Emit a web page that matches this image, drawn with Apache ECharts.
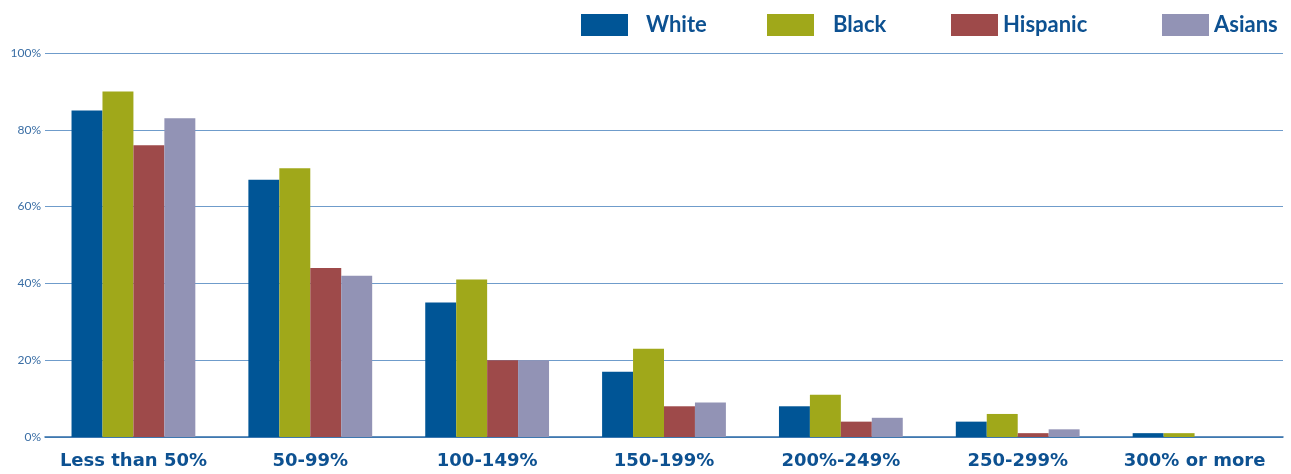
<!DOCTYPE html>
<html>
<head>
<meta charset="utf-8">
<script src="https://cdn.jsdelivr.net/npm/echarts@6/dist/echarts.min.js"></script>
<style>
  html, body { margin: 0; padding: 0; background: #ffffff; }
  #chart { width: 1291px; height: 474px; }
</style>
</head>
<body>
<div id="chart"></div>
<script>
// Income-to-poverty bands and the share (%) for each group
const categories = ['Less than 50%', '50-99%', '100-149%', '150-199%', '200%-249%', '250-299%', '300% or more'];
const white    = [85, 67, 35, 17, 8, 4, 1];
const black    = [90, 70, 41, 23, 11, 6, 1];
const hispanic = [76, 44, 20, 8, 4, 1, 0];
const asians   = [83, 42, 20, 9, 5, 2, 0];
const yTicks   = [0, 20, 40, 60, 80, 100];

const seriesNames  = ['White', 'Black', 'Hispanic', 'Asians'];
const seriesData   = [white, black, hispanic, asians];
const seriesColors = ['#005596', '#a0a81a', '#9e4a4a', '#9293b5'];

const textBlue = '#0d5191';
const fontFam = 'Lato, "Open Sans", sans-serif';

// one legend block per series so each can be placed on its own
const legendLefts = [581, 767, 951, 1162];
const legendPads  = [13, 14, 0, 0];

const chart = echarts.init(document.getElementById('chart'));
chart.setOption({
  animation: false,
  legend: seriesNames.map((n, i) => ({
    data: [n],
    left: legendLefts[i],
    top: 14,
    padding: 0,
    itemWidth: 47,
    itemHeight: 22,
    icon: 'rect',
    selectedMode: false,
    textStyle: {
      color: textBlue,
      fontFamily: fontFam,
      fontWeight: 'bold',
      fontSize: 22,
      padding: [0, 0, 0, legendPads[i]]
    }
  })),
  grid: { left: 45, right: 8, top: 53, bottom: 37, containLabel: false },
  xAxis: {
    type: 'category',
    data: categories,
    axisLine: { show: true, lineStyle: { color: '#2f6ca8', width: 1.5 } },
    axisTick: { show: false },
    axisLabel: {
      interval: 0,
      color: textBlue,
      fontFamily: '"DejaVu Sans", sans-serif',
      fontWeight: 'bold',
      fontSize: 18,
      margin: 15
    }
  },
  yAxis: {
    type: 'value',
    min: 0,
    max: 100,
    interval: 20,
    axisLine: { show: false },
    axisTick: { show: false },
    axisLabel: {
      color: '#3a6ea5',
      fontFamily: fontFam,
      fontSize: 12,
      margin: 4,
      formatter: v => yTicks.includes(v) ? v + '%' : ''
    },
    splitLine: { lineStyle: { color: '#6f9ccb', width: 1.2 } }
  },
  series: seriesNames.map((n, i) => ({
    name: n,
    type: 'bar',
    data: seriesData[i],
    barGap: '0%',
    barCategoryGap: '30%',
    itemStyle: { color: seriesColors[i] },
    z: 3
  }))
});
</script>
</body>
</html>
